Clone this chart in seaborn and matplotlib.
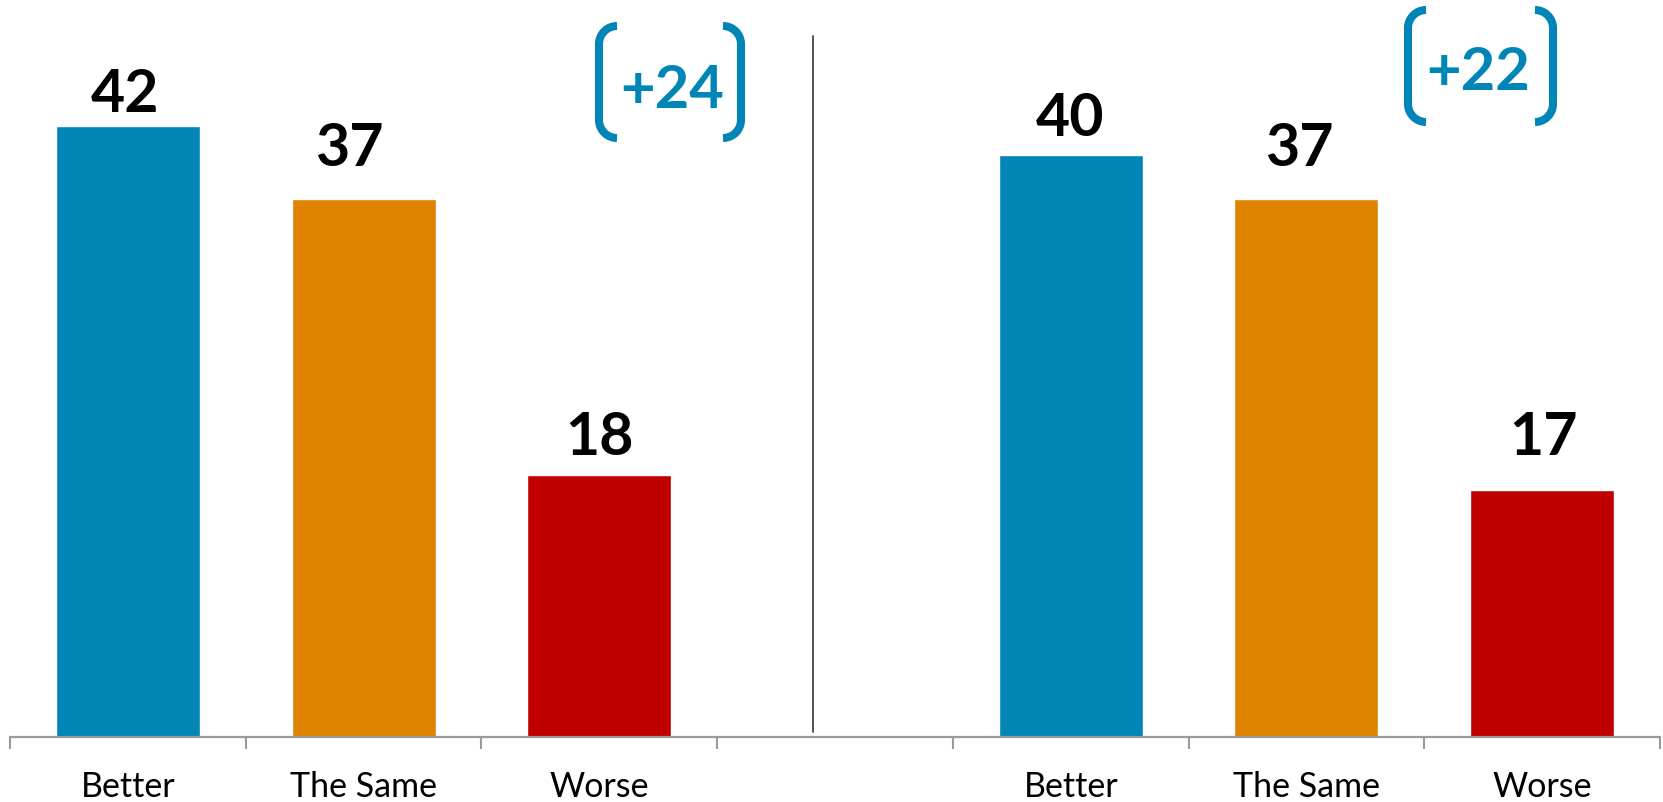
import numpy as np
import pandas as pd
import matplotlib
matplotlib.use("Agg")
import matplotlib.pyplot as plt
from matplotlib.path import Path
from matplotlib.patches import PathPatch
from matplotlib.transforms import Affine2D
import seaborn as sns

# ---- data -------------------------------------------------------------
answers = ["Better", "The Same", "Worse"]
groups = ["left", "right"]
left_values = [42, 37, 18]
right_values = [40, 37, 17]
net_labels = ["+24", "+22"]

# ---- styling ------------------------------------------------------------
colors = {"Better": "#0086B6", "The Same": "#DF8300", "Worse": "#C00000"}
blue = "#0086B6"
W, H, DPI = 1663, 803, 100

sns.set_style("white")
plt.rcParams["font.family"] = ["Lato", "DejaVu Sans"]

# one slot per bar, with an empty slot between the two groups
order = [f"{groups[0]}|{a}" for a in answers] + ["gap"] + [f"{groups[1]}|{a}" for a in answers]
rows = []
for g, vals in zip(groups, [left_values, right_values]):
    for a, v in zip(answers, vals):
        rows.append({"slot": f"{g}|{a}", "answer": a, "value": v})
df = pd.DataFrame(rows)

fig = plt.figure(figsize=(W / DPI, H / DPI), dpi=DPI)
ax = fig.add_axes([10 / W, (H - 738) / H, 1650 / W, 738 / H])

sns.barplot(data=df, x="slot", y="value", hue="answer", order=order,
            hue_order=answers, palette=colors, dodge=False, width=0.611,
            saturation=1, legend=False, ax=ax)

ax.set_xlim(-0.5, len(order) - 0.5)
ax.set_ylim(0, 50.72)
ax.set_xlabel("")
ax.set_ylabel("")
ax.set_yticks([])
for side in ("top", "right", "left"):
    ax.spines[side].set_visible(False)
ax.spines["bottom"].set_color("#9A9A9A")
ax.spines["bottom"].set_linewidth(1.6)

# boundary ticks between categories, labels centred under the bars
ax.set_xticks(np.arange(-0.5, len(order), 1.0))
ax.set_xticklabels([])
ax.set_xticks(np.arange(len(order)), minor=True)
ax.set_xticklabels([s.split("|")[1] if "|" in s else "" for s in order],
                   minor=True, fontsize=24.5, color="black")
ax.tick_params(axis="x", which="major", bottom=True, direction="out",
               length=8.6, width=1.5, color="#9A9A9A")
ax.tick_params(axis="x", which="minor", bottom=True, length=0, pad=24)

# value labels above the bars (hand-tuned offsets in pixels)
label_offsets = [(-3, 15), (-14, 34), (0, 21), (-1, 20), (-7, 34), (1, 36)]
vals_all = left_values + right_values
slots_all = [s for s in order if s != "gap"]
for slot, v, (dx, dy) in zip(slots_all, vals_all, label_offsets):
    xpos = order.index(slot)
    ax.annotate(str(v), xy=(xpos, v), xytext=(dx * 0.72, dy * 0.72),
                textcoords="offset points", ha="center", va="baseline",
                fontsize=42.5, fontweight="bold", color="black")

# divider between the two panels
ax.axvline(2.907, ymin=5 / 738, ymax=(738 - 37) / 738, color="#333333", lw=1.2)

# net-score badges with rounded brackets (pixel coordinates, origin top-left)
px = Affine2D().scale(1 / W, -1 / H).translate(0, 1) + fig.transFigure


def bracket(xl, xr, yt, yb, h=18, lw=5.8):
    k = 0.5523
    for x0, s in ((xl, 1), (xr, -1)):
        verts = [(x0 + s * h, yt),
                 (x0 + s * h * (1 - k), yt), (x0, yt + h * (1 - k)), (x0, yt + h),
                 (x0, yb - h),
                 (x0, yb - h * (1 - k)), (x0 + s * h * (1 - k), yb), (x0 + s * h, yb)]
        codes = [Path.MOVETO, Path.CURVE4, Path.CURVE4, Path.CURVE4,
                 Path.LINETO, Path.CURVE4, Path.CURVE4, Path.CURVE4]
        patch = PathPatch(Path(verts, codes), fill=False, edgecolor=blue,
                          lw=lw, capstyle="butt", joinstyle="round",
                          transform=px)
        fig.add_artist(patch)


badges = [
    # (bracket left, bracket right, top, bottom, text x, text baseline)
    (599, 741, 27, 139, 672, 108),
    (1408, 1553, 11, 123, 1478, 90),
]
for label, (xl, xr, yt, yb, tx, ty) in zip(net_labels, badges):
    bracket(xl, xr, yt, yb)
    fig.text(tx, ty, label, transform=px, ha="center", va="baseline",
             fontsize=43, fontweight="bold", color=blue)

fig.savefig("out.png", dpi=DPI)
